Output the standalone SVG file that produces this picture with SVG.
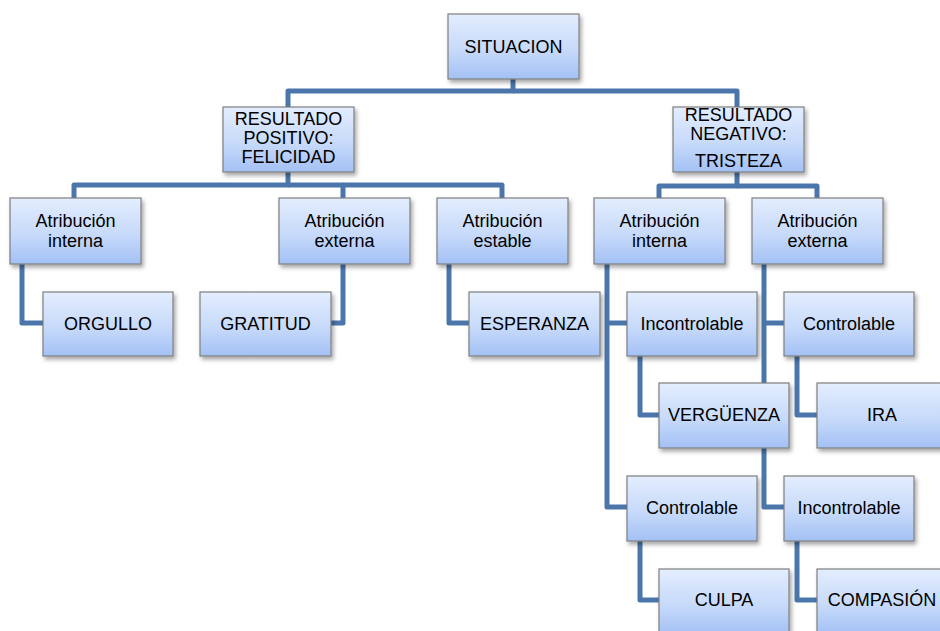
<svg xmlns="http://www.w3.org/2000/svg" width="940" height="631" viewBox="0 0 940 631">
<defs>
<linearGradient id="g" x1="0" y1="0" x2="0" y2="1">
<stop offset="0" stop-color="#e3edfe"/>
<stop offset="0.55" stop-color="#c7dafa"/>
<stop offset="1" stop-color="#a3c1f5"/>
</linearGradient>
<filter id="sh" x="-10%" y="-10%" width="130%" height="140%">
<feDropShadow dx="2" dy="3" stdDeviation="2" flood-color="#000" flood-opacity="0.35"/>
</filter>
<style>
.box{fill:url(#g);stroke:#7f7f7f;stroke-width:1.2;filter:url(#sh)}
text{font-family:"Liberation Sans",Arial,sans-serif;font-size:18px;fill:#000;text-anchor:middle}
.c path{fill:none;stroke:#4a76ab;stroke-width:5;stroke-linejoin:round;stroke-linecap:butt}
</style>
</defs>
<rect width="940" height="631" fill="#fff"/>
<g class="c" id="connectors">
<path d="M513,79 V91 H288 V107"/>
<path d="M513,91 H737 V107"/>
<path d="M288,172 V185 H74 V198"/>
<path d="M288,185 H343 V198"/>
<path d="M343,185 H502 V198"/>
<path d="M737,172 V186 H659 V198"/>
<path d="M737,186 H817 V198"/>
<path d="M22,264 V323 H43"/>
<path d="M343,264 V323 H331"/>
<path d="M449,264 V323 H469"/>
<path d="M607,264 V507 H627"/>
<path d="M607,323 H627"/>
<path d="M764,264 V507 H784"/>
<path d="M764,323 H784"/>
<path d="M640,356 V415 H659"/>
<path d="M797,356 V415 H817"/>
<path d="M640,541 V600 H659"/>
<path d="M797,541 V600 H817"/>
</g>
<g id="n-situacion"><rect class="box" x="448" y="14" width="131" height="65"/><text x="513.5" y="53">SITUACION</text></g>
<g id="n-positivo"><rect class="box" x="223" y="107" width="131" height="65"/><text x="288.5" y="125">RESULTADO</text><text x="288.5" y="144">POSITIVO:</text><text x="288.5" y="163">FELICIDAD</text></g>
<g id="n-negativo"><rect class="box" x="673" y="107" width="131" height="65"/><text x="738.5" y="121">RESULTADO</text><text x="738.5" y="140">NEGATIVO:</text><text x="738.5" y="167">TRISTEZA</text></g>
<g id="n-ai1"><rect class="box" x="10" y="198" width="131" height="66"/><text x="75.5" y="227">Atribución</text><text x="75.5" y="247">interna</text></g>
<g id="n-ae1"><rect class="box" x="279" y="198" width="131" height="66"/><text x="344.5" y="227">Atribución</text><text x="344.5" y="247">externa</text></g>
<g id="n-as"><rect class="box" x="437" y="198" width="131" height="66"/><text x="502.5" y="227">Atribución</text><text x="502.5" y="247">estable</text></g>
<g id="n-ai2"><rect class="box" x="594" y="198" width="131" height="66"/><text x="659.5" y="227">Atribución</text><text x="659.5" y="247">interna</text></g>
<g id="n-ae2"><rect class="box" x="752" y="198" width="131" height="66"/><text x="817.5" y="227">Atribución</text><text x="817.5" y="247">externa</text></g>
<g id="n-orgullo"><rect class="box" x="43" y="292" width="130" height="64"/><text x="108" y="330">ORGULLO</text></g>
<g id="n-gratitud"><rect class="box" x="200" y="292" width="131" height="64"/><text x="265.5" y="330">GRATITUD</text></g>
<g id="n-esperanza"><rect class="box" x="469" y="292" width="131" height="64"/><text x="534.5" y="330">ESPERANZA</text></g>
<g id="n-incontrolable1"><rect class="box" x="627" y="292" width="130" height="64"/><text x="692" y="330">Incontrolable</text></g>
<g id="n-controlable1"><rect class="box" x="784" y="292" width="130" height="64"/><text x="849" y="330">Controlable</text></g>
<g id="n-verguenza"><rect class="box" x="659" y="383" width="130" height="65"/><text x="724" y="421">VERGÜENZA</text></g>
<g id="n-ira"><rect class="box" x="817" y="383" width="130" height="65"/><text x="882" y="421">IRA</text></g>
<g id="n-controlable2"><rect class="box" x="627" y="476" width="130" height="65"/><text x="692" y="514">Controlable</text></g>
<g id="n-incontrolable2"><rect class="box" x="784" y="476" width="130" height="65"/><text x="849" y="514">Incontrolable</text></g>
<g id="n-culpa"><rect class="box" x="659" y="569" width="130" height="65"/><text x="724" y="606">CULPA</text></g>
<g id="n-compasion"><rect class="box" x="817" y="569" width="130" height="65"/><text x="882" y="606">COMPASIÓN</text></g>
</svg>
